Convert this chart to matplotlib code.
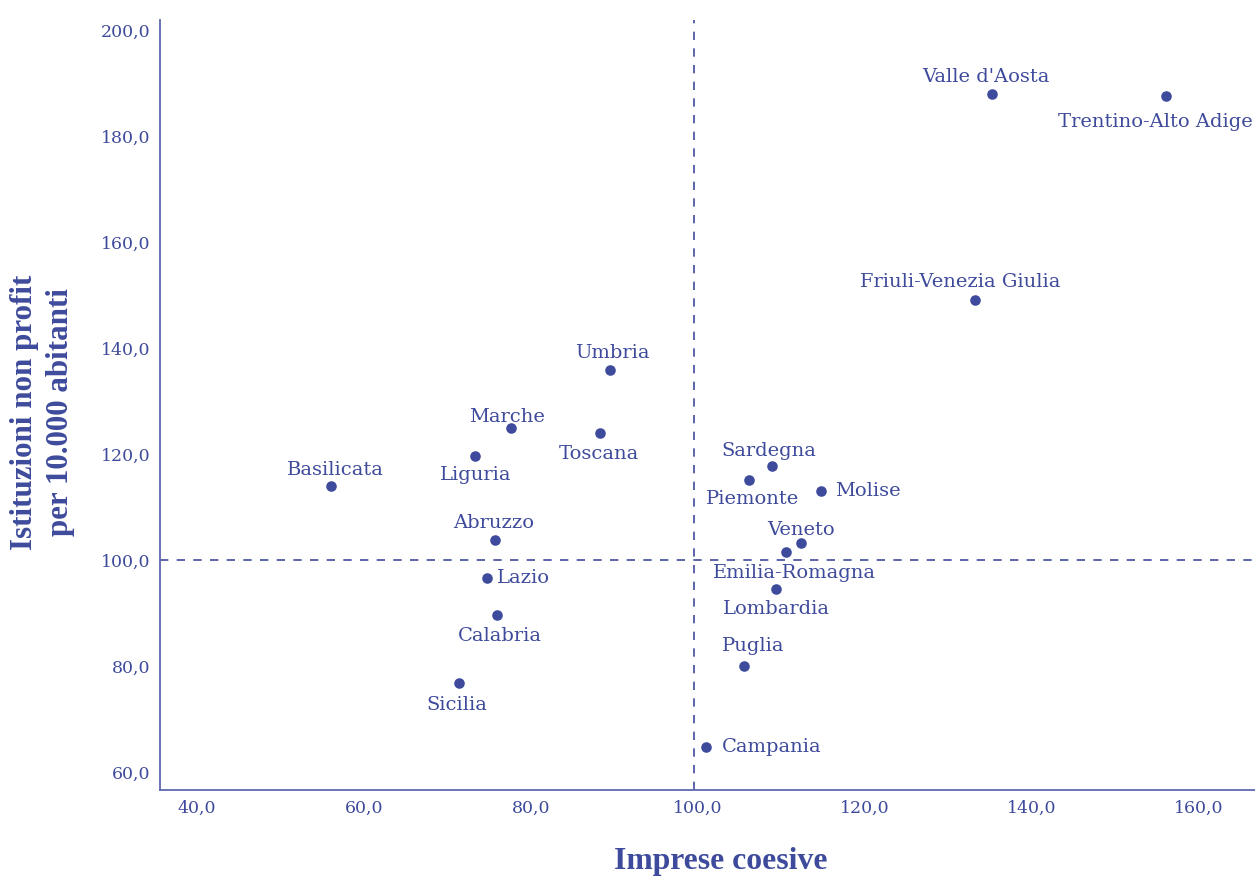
import matplotlib
matplotlib.use("Agg")
import matplotlib.pyplot as plt
from matplotlib.ticker import FuncFormatter

# Data__________________________________________________________________________
regions = ["Valle d'Aosta", "Trentino-Alto Adige", "Friuli-Venezia Giulia", "Umbria",
           "Marche", "Toscana", "Liguria", "Basilicata", "Sardegna", "Piemonte",
           "Molise", "Veneto", "Emilia-Romagna", "Lombardia", "Abruzzo", "Lazio",
           "Calabria", "Puglia", "Sicilia", "Campania"]
imprese = [135.3, 156.1, 133.2, 89.5, 77.6, 88.3, 73.3, 56.1, 108.9, 106.1,
           114.8, 112.4, 110.6, 109.4, 75.7, 74.8, 76.0, 105.6, 71.4, 101.0]
nonprofit = [187.9, 187.5, 149.1, 135.8, 124.9, 124.0, 119.6, 114.0, 117.7, 115.1,
             113.0, 103.2, 101.5, 94.5, 103.8, 96.6, 89.6, 80.0, 76.8, 64.7]
x_ticks = [40, 60, 80, 100, 120, 140, 160]
y_ticks = [60, 80, 100, 120, 140, 160, 180, 200]
# reference lines (dashed)
x_ref = 99.6
y_ref = 100.0

# label placement: offset in pixels and alignment
def above(dx=0, dy=8):
    return (dx, dy), "center", "bottom"

def below(dx=0, dy=-12):
    return (dx, dy), "center", "top"

def right(dx=12):
    return (dx, 0), "left", "center"

placement = {
    "Valle d'Aosta": above(-6),
    "Trentino-Alto Adige": below(-10, -17),
    "Friuli-Venezia Giulia": above(-14, 9),
    "Umbria": above(2),
    "Marche": above(-4, 2),
    "Toscana": below(-1),
    "Liguria": below(1, -10),
    "Basilicata": above(4, 7),
    "Sardegna": above(-3, 6),
    "Piemonte": below(4, -10),
    "Molise": right(14),
    "Veneto": above(0, 4),
    "Emilia-Romagna": below(8),
    "Lombardia": below(0, -11),
    "Abruzzo": above(-1),
    "Lazio": right(10),
    "Calabria": below(2),
    "Puglia": above(9, 11),
    "Sicilia": below(-2, -13),
    "Campania": right(16),
}

# Plot__________________________________________________________________________
col = "#3e4a9b"
spine_col = "#5f68b3"

fig = plt.figure(figsize=(12.55, 8.8), dpi=100)
ax = fig.add_axes([0.1275, 0.1023, 0.8725, 0.875])

ax.axvline(x_ref, color=col, lw=1.2, ls=(0, (5, 5)), zorder=1)
ax.axhline(y_ref, color=col, lw=1.2, ls=(0, (5, 5)), zorder=1)
ax.scatter(imprese, nonprofit, s=58, color=col, zorder=3, linewidths=0)

for name, xv, yv in zip(regions, imprese, nonprofit):
    off, ha, va = placement[name]
    ax.annotate(name, (xv, yv), xytext=off, textcoords="offset pixels",
                ha=ha, va=va, color=col, fontsize=14, family="DejaVu Serif")

ax.set_xlim(35.56, 166.8)
ax.set_ylim(56.6, 201.9)
ax.set_xticks(x_ticks)
ax.set_yticks(y_ticks)
fmt = FuncFormatter(lambda v, p: f"{v:.1f}".replace(".", ","))
ax.xaxis.set_major_formatter(fmt)
ax.yaxis.set_major_formatter(fmt)
ax.tick_params(length=0, colors=col, labelsize=12.5, pad=7)
for lab in ax.get_xticklabels() + ax.get_yticklabels():
    lab.set_family("DejaVu Serif")

for s in ["top", "right"]:
    ax.spines[s].set_visible(False)
for s in ["left", "bottom"]:
    ax.spines[s].set_color(spine_col)
    ax.spines[s].set_linewidth(1.3)

fig.text(0.5745, 0.0205, "Imprese coesive", ha="center", va="center", color=col,
         fontsize=22.8, fontweight="bold", family="Liberation Serif")
fig.text(0.0339, 0.532, "Istituzioni non profit\nper 10.000 abitanti", ha="center",
         va="center", rotation=90, color=col, fontsize=22.3, fontweight="bold",
         family="Liberation Serif", linespacing=1.3)

fig.savefig("out.png", dpi=100)
